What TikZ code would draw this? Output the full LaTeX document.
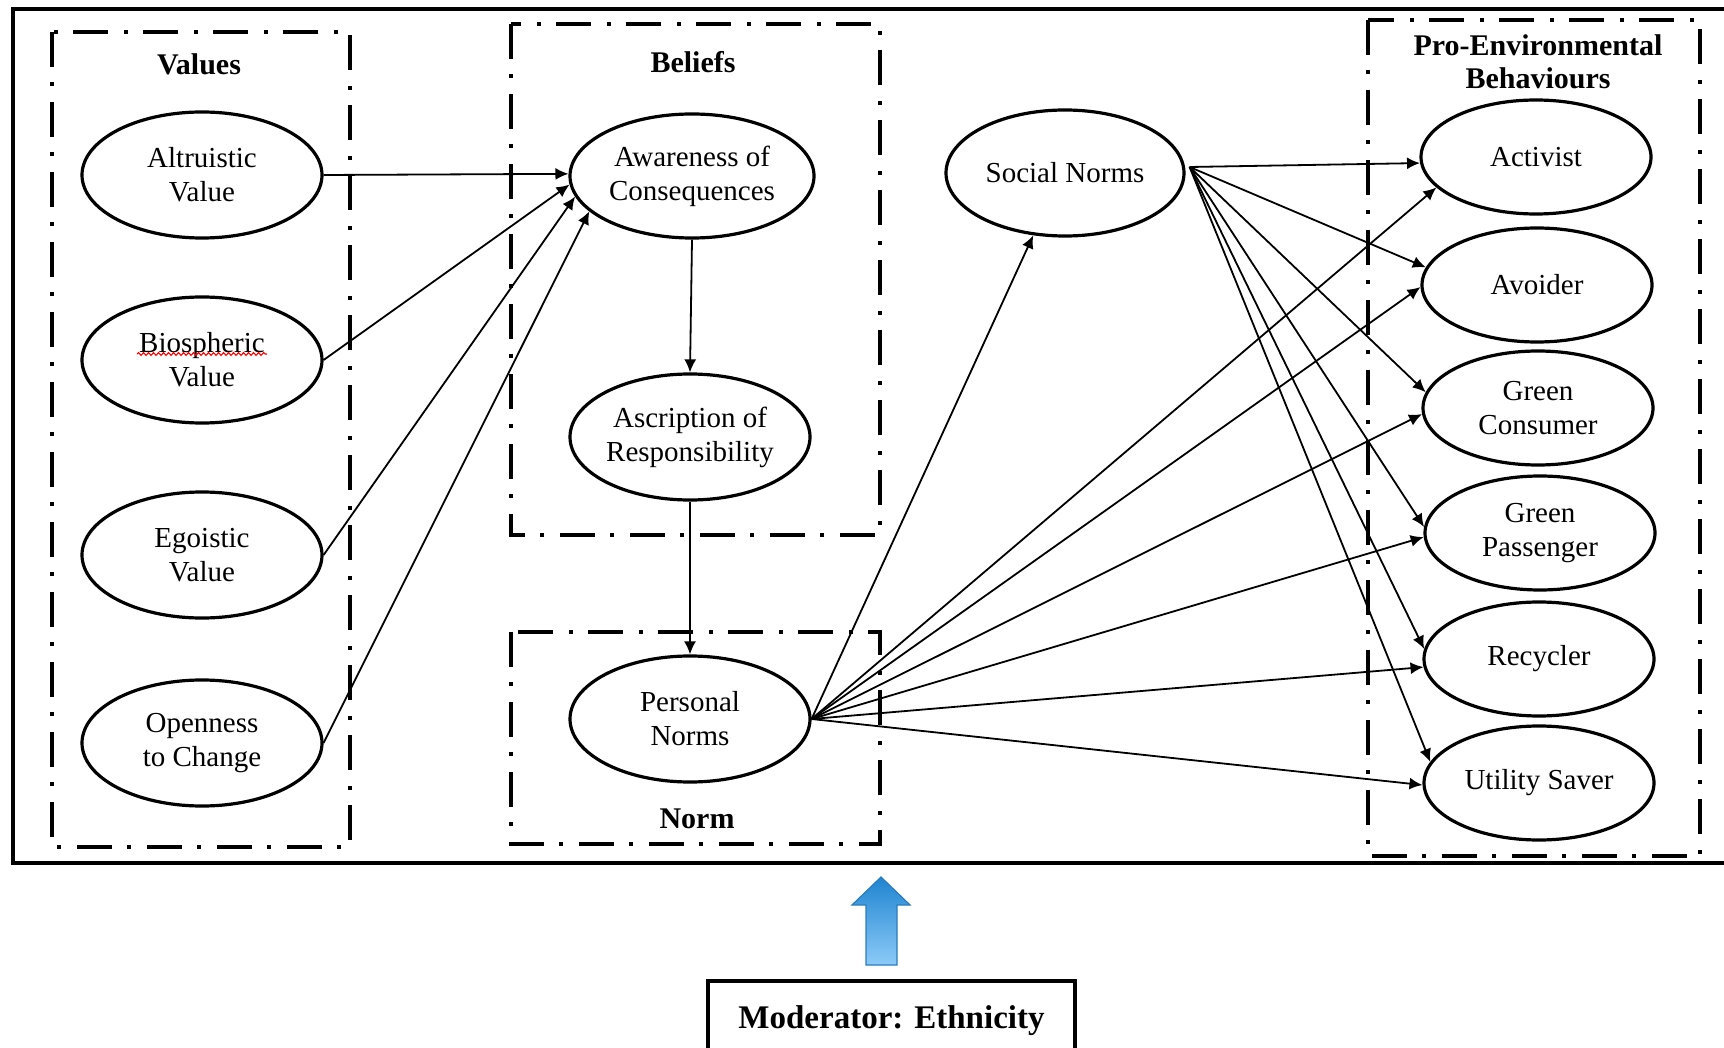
\documentclass[tikz,border=0pt]{standalone}
\usepackage{fontspec}
\setmainfont{Liberation Serif}
\usetikzlibrary{shapes.geometric,arrows.meta,decorations.pathmorphing,calc}
\definecolor{bluetop}{HTML}{1F84D0}
\definecolor{bluebot}{HTML}{8CCBF8}
\definecolor{blueline}{HTML}{2A7CBE}
\begin{document}
\begin{tikzpicture}[x=1pt,y=-1pt,
  ell/.style={ellipse,draw,line width=3.2pt,inner sep=0pt,minimum width=240pt,minimum height=126pt,align=center,font=\fontsize{29}{34}\selectfont},
  rell/.style={ell,minimum width=230pt,minimum height=114pt},
  grp/.style={draw,line width=4pt,dash pattern=on 35pt off 15pt on 4pt off 16pt},
  ttl/.style={font=\fontsize{30}{33}\selectfont\bfseries,align=center,inner sep=0pt},
  conn/.style={line width=1.8pt,-{Latex[length=13pt,width=12pt]}},
]
\useasboundingbox (0,0) rectangle (1724,1048);
% outer frame (open to the right edge)
\draw[line width=3.5pt] (1730,9) -- (13,9) -- (13,863) -- (1730,863);
% group boxes
\draw[grp] (52,32) rectangle (350,847);
\draw[grp] (511,24) rectangle (880,535);
\draw[grp] (511,632) rectangle (880,844);
\draw[grp] (1368,20) rectangle (1700,856);
% titles
\node[ttl] (tv) at (199,64) {Values};
\node[ttl] (tb) at (693,62) {Beliefs};
\node[ttl] (tn) at (697,819) {Norm};
\node[ttl] (tp) at (1538,62) {Pro-Environmental\\Behaviours};
% ellipses
\node[ell] (alt) at (202,175) {Altruistic\\Value};
\node[ell] (bio) at (202,360) {Biospheric\\Value};
\node[ell] (ego) at (202,555) {Egoistic\\Value};
\node[ell] (open) at (202,743) {Openness\\to Change};
\node[ell,minimum width=244pt,minimum height=124pt] (aw) at (692,176) {Awareness of\\Consequences};
\node[ell] (ar) at (690,437) {Ascription of\\Responsibility};
\node[ell] (pn) at (690,719) {Personal\\Norms};
\node[ell,minimum width=238pt] (sn) at (1065,173) {Social Norms};
\node[rell] (act) at (1536,157) {Activist};
\node[rell] (avo) at (1537,285) {Avoider};
\node[rell] (gc) at (1538,408) {Green\\Consumer};
\node[rell] (gp) at (1540,533) {Green\\Passenger};
\node[rell] (rec) at (1539,659) {Recycler};
\node[rell] (us) at (1539,783) {Utility Saver};
% spell-check squiggle
\draw[red, line width=1.1pt, decorate, decoration={snake, amplitude=1.4pt, segment length=5pt}]
  ($(bio.center)+(-65,-6)$) -- ($(bio.center)+(65,-6)$);
% connectors
\draw[conn] (alt.east) -- (aw.179);
\draw[conn] (bio.east) -- (aw.184);
\draw[conn] (ego.east) -- (aw.190);
\draw[conn] (open.east) -- (aw.199);
\draw[conn] (aw.south) -- (ar.north);
\draw[conn] (ar.south) -- (pn.north);
\coordinate (snp) at ($(sn.east)+(4,-6)$);
\draw[conn] (snp) -- (act.183);
\draw[conn] (snp) -- (avo.171);
\draw[conn] (snp) -- (gc.172);
\draw[conn] (snp) -- (gp.177);
\draw[conn] (snp) -- (rec.175);
\draw[conn] (snp) -- (us.169);
\draw[conn] (pn.east) -- (sn.243);
\draw[conn] (pn.east) -- (act.197);
\draw[conn] (pn.east) -- (avo.181);
\draw[conn] (pn.east) -- (gc.183);
\draw[conn] (pn.east) -- (gp.182);
\draw[conn] (pn.east) -- (rec.184);
\draw[conn] (pn.east) -- (us.181);
% moderator
\node[draw,line width=3.5pt,minimum width=367pt,minimum height=79pt,inner sep=0pt,
  font=\fontsize{33}{36}\selectfont\bfseries] (mod) at (891.5,1020.5) {Moderator: Ethnicity};
\shade[top color=bluetop,bottom color=bluebot,draw=blueline,line width=1.2pt]
  (881,877) -- (910,905) -- (897,905) -- (897,965) -- (866,965) -- (866,905) -- (852,905) -- cycle;
\end{tikzpicture}
\end{document}
